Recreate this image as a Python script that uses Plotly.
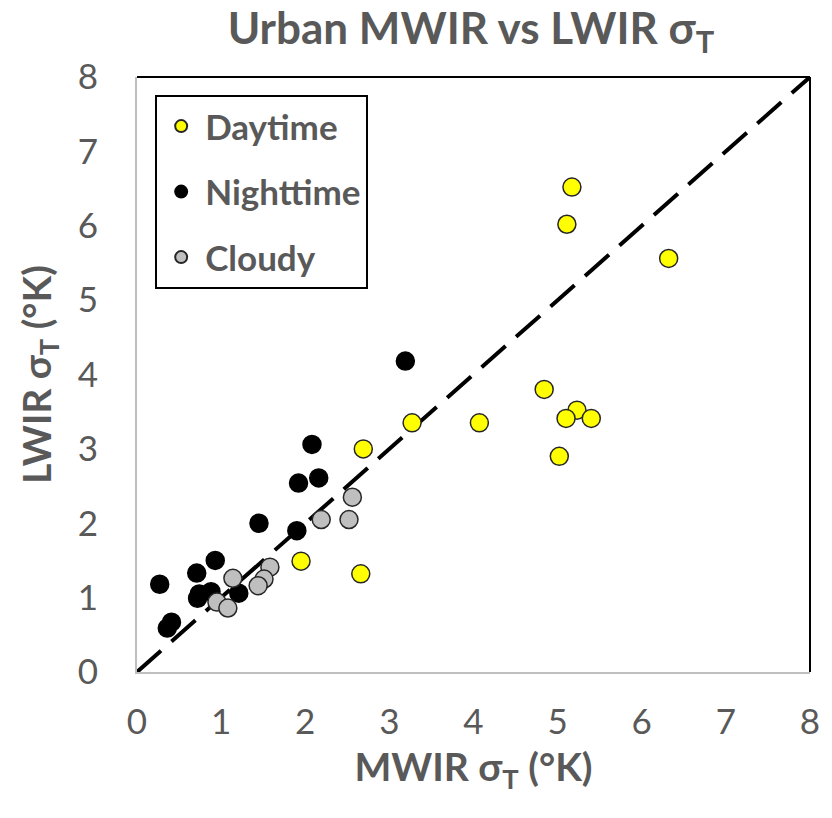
import plotly.graph_objects as go

# MWIR vs LWIR temperature standard deviation (°K), grouped by conditions
day_mwir = [5.17, 5.11, 6.32, 4.84, 5.23, 5.10, 5.40, 5.02, 4.07, 3.27, 2.69, 1.95, 2.66]
day_lwir = [6.52, 6.02, 5.56, 3.80, 3.52, 3.41, 3.41, 2.90, 3.35, 3.35, 3.00, 1.49, 1.32]

night_mwir = [3.19, 2.08, 2.16, 1.92, 1.45, 1.90, 0.93, 0.71, 0.27, 0.72, 0.88, 0.74, 1.21, 0.41, 0.36]
night_lwir = [4.18, 3.06, 2.61, 2.54, 2.00, 1.90, 1.50, 1.33, 1.18, 0.99, 1.08, 1.05, 1.06, 0.67, 0.59]

cloudy_mwir = [2.56, 2.52, 2.19, 1.58, 1.51, 1.44, 1.14, 0.95, 1.08]
cloudy_lwir = [2.35, 2.05, 2.05, 1.41, 1.25, 1.16, 1.26, 0.94, 0.86]

one_to_one = [0, 8]
ticks = [0, 1, 2, 3, 4, 5, 6, 7, 8]

TEXT = "#595959"
FONT = "Lato, 'Open Sans', sans-serif"

fig = go.Figure()

# 1:1 reference line
fig.add_trace(go.Scatter(
    x=one_to_one, y=one_to_one, mode="lines", showlegend=False,
    line=dict(color="black", width=4, dash="32px,14px"), hoverinfo="skip",
))

# (name, x, y, fill, edge, legend rank); night drawn first, daytime on top
series = [
    ("Nighttime", night_mwir, night_lwir, "#000000", "#000000", 2),
    ("Cloudy", cloudy_mwir, cloudy_lwir, "#BFBFBF", "#262626", 3),
    ("Daytime", day_mwir, day_lwir, "#FFFF00", "#262626", 1),
]
for name, xs, ys, fill, edge, rank in series:
    fig.add_trace(go.Scatter(
        x=xs, y=ys, mode="markers", name=name, legendgroup=name, legendrank=rank,
        marker=dict(size=18, color=fill, line=dict(color=edge, width=1.5)),
    ))

fig.update_layout(
    width=832, height=818,
    margin=dict(l=137, r=13, t=77, b=146),
    paper_bgcolor="white", plot_bgcolor="white",
    font=dict(family=FONT, color=TEXT),
    title=dict(
        text="<b>Urban MWIR vs LWIR σ<sub>T</sub></b>",
        x=0.566, xanchor="center", y=0.984, yanchor="top",
        font=dict(size=44, color=TEXT, family=FONT),
    ),
    legend=dict(
        x=0.027, y=0.97, xanchor="left", yanchor="top",
        bgcolor="white", bordercolor="black", borderwidth=2,
        font=dict(size=35, color=TEXT, family=FONT, weight="bold"),
        traceorder="grouped", tracegroupgap=17,
        itemsizing="constant", itemwidth=38,
    ),
    showlegend=True,
)

fig.update_xaxes(
    range=[0, 8], tickvals=ticks, showgrid=False, zeroline=False,
    showline=True, linecolor="#BFBFBF", linewidth=2,
    ticks="outside", ticklen=18, tickcolor="rgba(0,0,0,0)",
    tickfont=dict(size=35, color=TEXT, family=FONT),
    title=dict(text="<b>MWIR σ<sub>T</sub> (°K)</b>", standoff=14,
               font=dict(size=39, color=TEXT, family=FONT)),
)
fig.update_yaxes(
    range=[0, 8], tickvals=ticks, showgrid=False, zeroline=False,
    showline=True, linecolor="#BFBFBF", linewidth=2,
    ticks="outside", ticklen=30, tickcolor="rgba(0,0,0,0)",
    tickfont=dict(size=35, color=TEXT, family=FONT),
    title=dict(text="<b>LWIR σ<sub>T</sub> (°K)</b>", standoff=14,
               font=dict(size=39, color=TEXT, family=FONT)),
)

# Dark frame on the top and right edges of the plot area
fig.add_shape(type="line", xref="paper", yref="paper", x0=0, y0=1, x1=1, y1=1,
              line=dict(color="black", width=2))
fig.add_shape(type="line", xref="paper", yref="paper", x0=1, y0=0, x1=1, y1=1,
              line=dict(color="black", width=2))

fig.write_html("out.html")
